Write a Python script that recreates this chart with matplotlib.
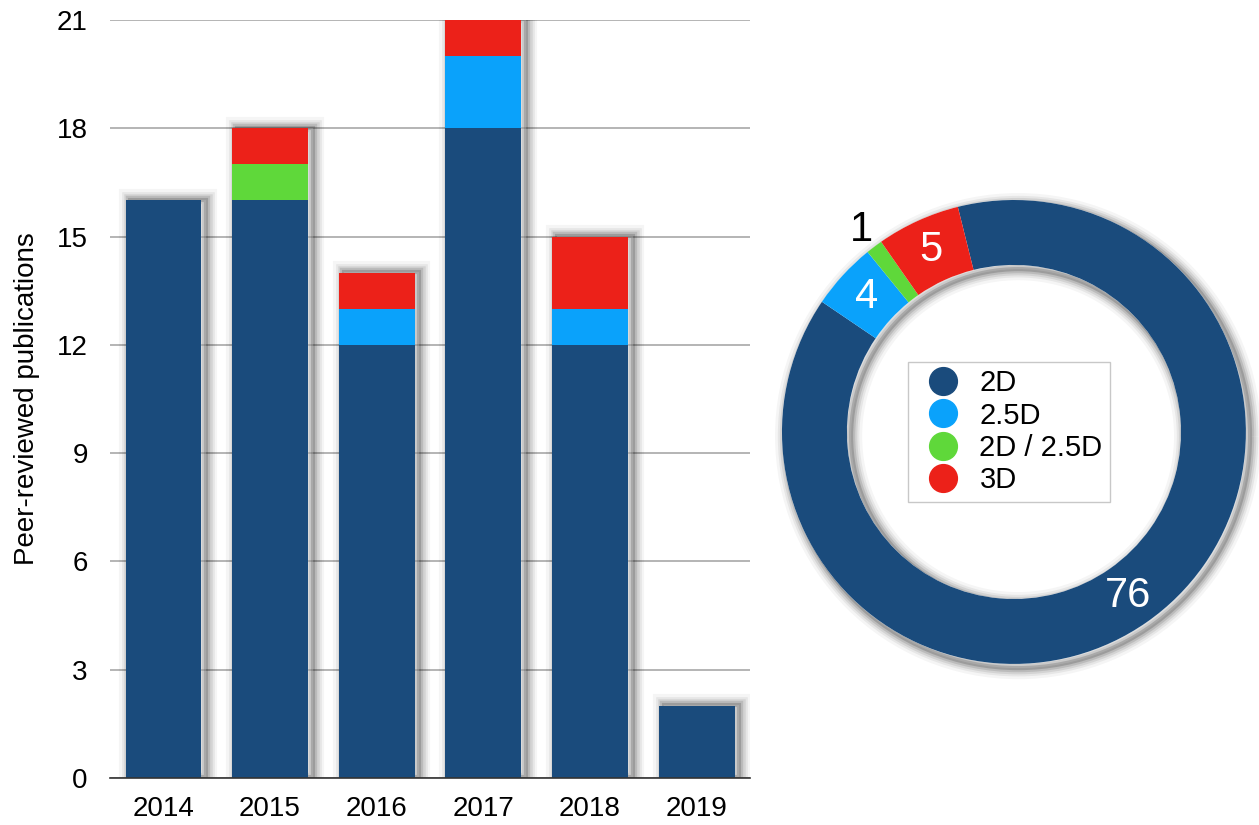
import matplotlib
matplotlib.use("Agg")
import matplotlib.pyplot as plt
import matplotlib.patheffects as pe
from matplotlib.lines import Line2D
import numpy as np

plt.rcParams['font.family'] = ['Liberation Sans', 'DejaVu Sans']

years = ['2014', '2015', '2016', '2017', '2018', '2019']
categories = ['2D', '2.5D', '2D / 2.5D', '3D']
colors = ['#1a4b7c', '#0aa2fb', '#5fd83a', '#ec2119']
vals_2d = [16, 16, 12, 18, 12, 2]
vals_25d = [0, 0, 1, 2, 1, 0]
vals_mixed = [0, 1, 0, 0, 0, 0]
vals_3d = [0, 1, 1, 1, 2, 0]
yticks = [0, 3, 6, 9, 12, 15, 18, 21]

series = [vals_2d, vals_25d, vals_mixed, vals_3d]
totals_by_cat = [sum(s) for s in series]
totals_by_year = np.sum(np.array(series), axis=0)


def shadow_effects(offset=(3, 0)):
    effs = []
    for w, a in [(16, 0.04), (12, 0.06), (9, 0.08), (6, 0.11), (3, 0.16)]:
        effs.append(pe.Stroke(linewidth=w, foreground='black', alpha=a, offset=offset))
    effs.append(pe.Normal())
    return effs


fig = plt.figure(figsize=(12.59, 8.25), dpi=100)

# Bar chart
ax = fig.add_axes([0.0874, 0.0570, 0.5083, 0.9188])
x = np.arange(len(years))
width = 0.71

sh = ax.bar(x, totals_by_year, width, color='white', zorder=2, linewidth=0)
for p in sh:
    p.set_path_effects(shadow_effects((3.5, 0.5)))

bottom = np.zeros(len(years))
for vals, col, lab in zip(series, colors, categories):
    ax.bar(x, vals, width, bottom=bottom, color=col, zorder=3, linewidth=0, label=lab)
    bottom += np.array(vals)

ax.set_xlim(-0.5, len(years) - 0.5)
ax.set_ylim(0, 21)
ax.set_yticks(yticks)
ax.set_yticklabels([str(t) for t in yticks], fontsize=20)
ax.set_xticks(x)
ax.set_xticklabels(years, fontsize=20)
ax.tick_params(axis='x', length=0, pad=13)
ax.tick_params(axis='y', length=0, pad=16)
ax.yaxis.grid(True, color='#a8a8a8', linewidth=1.2, zorder=0)
ax.set_axisbelow(True)
for s in ['top', 'right', 'left']:
    ax.spines[s].set_visible(False)
ax.spines['bottom'].set_color('#333333')
ax.spines['bottom'].set_linewidth(1.2)
ax.spines['bottom'].set_zorder(4)
ax.set_ylabel('Peer-reviewed publications', fontsize=20, labelpad=12)

# Donut chart
ax2 = fig.add_axes([0.6211, 0.1952, 0.3685, 0.5624])
ring_w = 0.28
bg, _ = ax2.pie([sum(totals_by_cat)], radius=1, colors=['white'],
                wedgeprops=dict(width=ring_w, linewidth=0))
for w in bg:
    w.set_path_effects(shadow_effects(offset=(3, -3)))
wedges, _ = ax2.pie(totals_by_cat, radius=1, colors=colors, startangle=104,
                    counterclock=False, wedgeprops=dict(width=ring_w, linewidth=0))
for w, v in zip(wedges, totals_by_cat):
    ang = np.deg2rad((w.theta1 + w.theta2) / 2)
    if v >= 3:
        r = 1 - ring_w / 2
        ax2.text(r * np.cos(ang), r * np.sin(ang), str(v), color='white',
                 fontsize=30, ha='center', va='center')
    else:
        r = 1.09
        ax2.text(r * np.cos(ang), r * np.sin(ang), str(v), color='black',
                 fontsize=30, ha='center', va='center', clip_on=False)
ax2.set_xlim(-1, 1)
ax2.set_ylim(-1, 1)
ax2.set_aspect('equal')
ax2.axis('off')

handles = [Line2D([], [], marker='o', linestyle='none', markersize=20,
                  markerfacecolor=c, markeredgecolor=c) for c in colors]
leg = fig.legend(handles, categories, loc='upper left',
                 bbox_to_anchor=(908 / 1259, 1 - 362 / 825), fontsize=21,
                 frameon=True, fancybox=False, edgecolor='#bbbbbb',
                 borderpad=0.25, labelspacing=0.15, handletextpad=0.3,
                 handlelength=1.9, borderaxespad=0)
leg.get_frame().set_linewidth(1.0)

fig.savefig('out.png', dpi=100)
